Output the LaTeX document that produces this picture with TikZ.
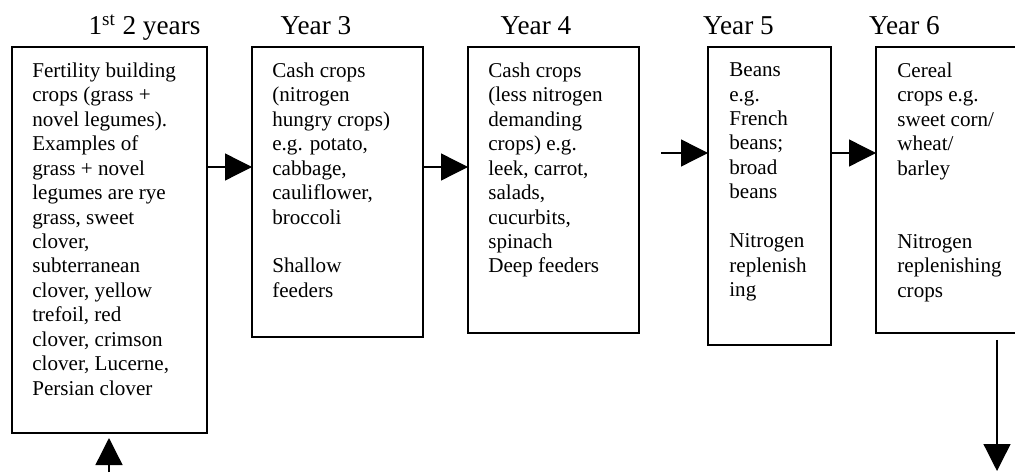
\documentclass[tikz,border=0pt]{standalone}
\usepackage{fontspec}
\setmainfont{Liberation Serif}
\usetikzlibrary{arrows.meta}

\begin{document}
\begin{tikzpicture}[
		yearbox/.style={draw, line width=1.1pt, anchor=north west, inner sep=0pt, outer sep=0pt},
		croptext/.style={anchor=north west, align=left, inner sep=0pt, font=\fontsize{12}{13.9}\selectfont},
		yearlabel/.style={anchor=base, font=\fontsize{15.5}{18}\selectfont},
		flow/.style={line width=0.75pt, -{Triangle[length=0.54cm, width=0.54cm]}}]
		\clip (0,0) rectangle (20.3,9.44);
		% the five years
		\node[yearbox, minimum width=3.9cm, minimum height=7.72cm] (b1) at (0.24,8.5) {};
		\node[yearbox, minimum width=3.42cm, minimum height=5.8cm] (b2) at (5.04,8.5) {};
		\node[yearbox, minimum width=3.42cm, minimum height=5.72cm] (b3) at (9.36,8.5) {};
		\node[yearbox, minimum width=2.46cm, minimum height=5.96cm] (b4) at (14.16,8.5) {};
		\node[yearbox, minimum width=3.2cm, minimum height=5.72cm] (b5) at (17.52,8.5) {};
		\node[yearlabel] (l1) at (2.89,8.74) {1\textsuperscript{st} 2 years};
		\node[yearlabel] (l2) at (6.32,8.74) {Year 3};
		\node[yearlabel] (l3) at (10.72,8.74) {Year 4};
		\node[yearlabel] (l4) at (14.77,8.74) {Year 5};
		\node[yearlabel] (l5) at (18.09,8.74) {Year 6};
		% what grows
		\node[croptext] (t1) at ([xshift=0.4cm, yshift=-0.31cm]b1.north west) {Fertility building\\crops (grass +\\novel legumes).\\Examples of\\grass + novel\\legumes are rye\\grass, sweet\\clover,\\subterranean\\clover, yellow\\trefoil, red\\clover, crimson\\clover, Lucerne,\\Persian clover};
		\node[croptext] (t2) at ([xshift=0.4cm, yshift=-0.31cm]b2.north west) {Cash crops\\(nitrogen\\hungry crops)\\e.g. potato,\\cabbage,\\cauliflower,\\broccoli\\[13.9pt]Shallow\\feeders};
		\node[croptext] (t3) at ([xshift=0.4cm, yshift=-0.31cm]b3.north west) {Cash crops\\(less nitrogen\\demanding\\crops) e.g.\\leek, carrot,\\salads,\\cucurbits,\\spinach\\Deep feeders};
		\node[croptext] (t4) at ([xshift=0.42cm, yshift=-0.31cm]b4.north west) {Beans\\e.g.\\French\\beans;\\broad\\beans\\[13.9pt]Nitrogen\\replenish\\ing};
		\node[croptext] (t5) at ([xshift=0.42cm, yshift=-0.31cm]b5.north west) {Cereal\\crops e.g.\\sweet corn/\\wheat/\\barley\\[27.8pt]Nitrogen\\replenishing\\crops};
		% rotation
		\draw[flow] ([yshift=-2.4cm]b1.north east) -- ([yshift=-2.4cm]b2.north west);
		\draw[flow] ([yshift=-2.4cm]b2.north east) -- ([yshift=-2.4cm]b3.north west);
		\coordinate (in4) at (13.22,6.38);
		\draw[flow] (in4) -- (in4 -| b4.west);
		\draw[flow] ([yshift=-2.12cm]b4.north east) -- ([yshift=-2.12cm]b5.north west);
		\coordinate (out5) at (19.94,2.64);
		\coordinate (end5) at (19.94,0.02);
		\draw[flow] (out5) -- (end5);
		\coordinate (back1) at (2.18,0);
		\coordinate (tip1) at (2.18,0.68);
		\draw[flow] (back1) -- (tip1);
	\end{tikzpicture}
\end{document}
